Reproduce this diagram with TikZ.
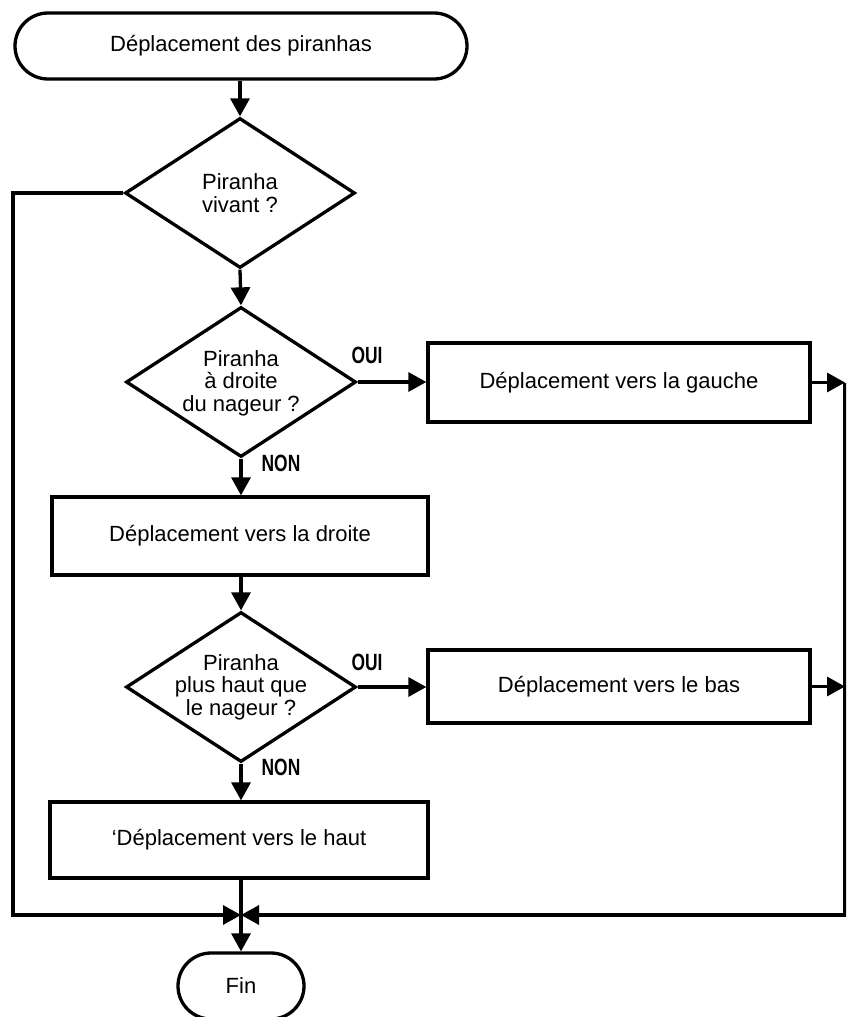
\documentclass[tikz,border=0pt]{standalone}
\usepackage{fontspec}
\setmainfont{Liberation Sans}
\newfontfamily\condfont{Liberation Sans}[FakeStretch=0.74]
\usetikzlibrary{shapes.geometric,arrows.meta}
\begin{document}
\begin{tikzpicture}[x=1pt,y=-1pt, line width=3.3pt,
 every node/.style={font=\fontsize{22}{22.5}\selectfont},
 term/.style={draw, rounded corners=33pt, minimum height=66pt, inner sep=0pt},
 box/.style={draw, rectangle, inner sep=0pt},
 dia/.style={draw, diamond, inner sep=0pt, minimum width=230pt, minimum height=150pt},
 txt/.style={align=center, inner sep=0pt},
 lbl/.style={font={\fontsize{23.5}{23.5}\condfont\bfseries}, inner sep=0pt},
 arr/.style={-{Triangle[length=18pt,width=19pt]}}
]
\clip (0,0) rectangle (846,1017);
\fill[white] (0,0) rectangle (846,1017);

\node[term, minimum width=452pt] (start) at (241,46) {Déplacement des piranhas};
\node[dia] (d1) at (240,193) {};
\node[txt] (d1t) at (240,193) {Piranha\\vivant ?};
\node[dia] (d2) at (241,382) {};
\node[txt] (d2t) at (241,383) {Piranha\\à droite\\du nageur ?};
\node[box, minimum width=382pt, minimum height=79pt] (b1) at (619,382.5) {Déplacement vers la gauche};
\node[box, minimum width=376pt, minimum height=78pt] (b2) at (240,536) {Déplacement vers la droite};
\node[dia] (d3) at (241,687) {};
\node[txt] (d3t) at (241,687) {Piranha\\plus haut que\\le nageur ?};
\node[box, minimum width=382pt, minimum height=73pt] (b3) at (619,686.5) {Déplacement vers le bas};
\node[box, minimum width=378pt, minimum height=76pt] (b4) at (239,840) {‘Déplacement vers le haut};
\node[term, minimum width=126pt] (fin) at (241,986) {Fin};

\node[lbl] (oui1) at (367,355) {OUI};
\node[lbl] (non1) at (281,463) {NON};
\node[lbl] (oui2) at (367,662) {OUI};
\node[lbl] (non2) at (281,767) {NON};

\coordinate (lx) at (13,0);
\coordinate (rx) at (845,0);
\coordinate (j) at (241,915);

\draw[arr] (start.south -| d1.north) -- (d1.north);
\draw[arr] (d1.south) -- (d2.north);
\draw[arr] (d2.east) -- (d2.east -| b1.west);
\draw[arr] (d2.south) -- (d2.south |- b2.north);
\draw[arr] (b2.south -| d3.north) -- (d3.north);
\draw[arr] (d3.east) -- (d3.east -| b3.west);
\draw[arr] (d3.south) -- (d3.south |- b4.north);
\draw[arr] (b4.south -| fin.north) -- (fin.north);
\draw[arr] (b1.east) -- (b1.east -| rx);
\draw[arr] (b3.east) -- (b3.east -| rx);
\draw[arr] (d1.west) -- (d1.west -| lx) -- (lx |- j) -- (j);
\draw[arr] (b1.east -| rx) -- (rx |- j) -- (j);
\end{tikzpicture}
\end{document}
